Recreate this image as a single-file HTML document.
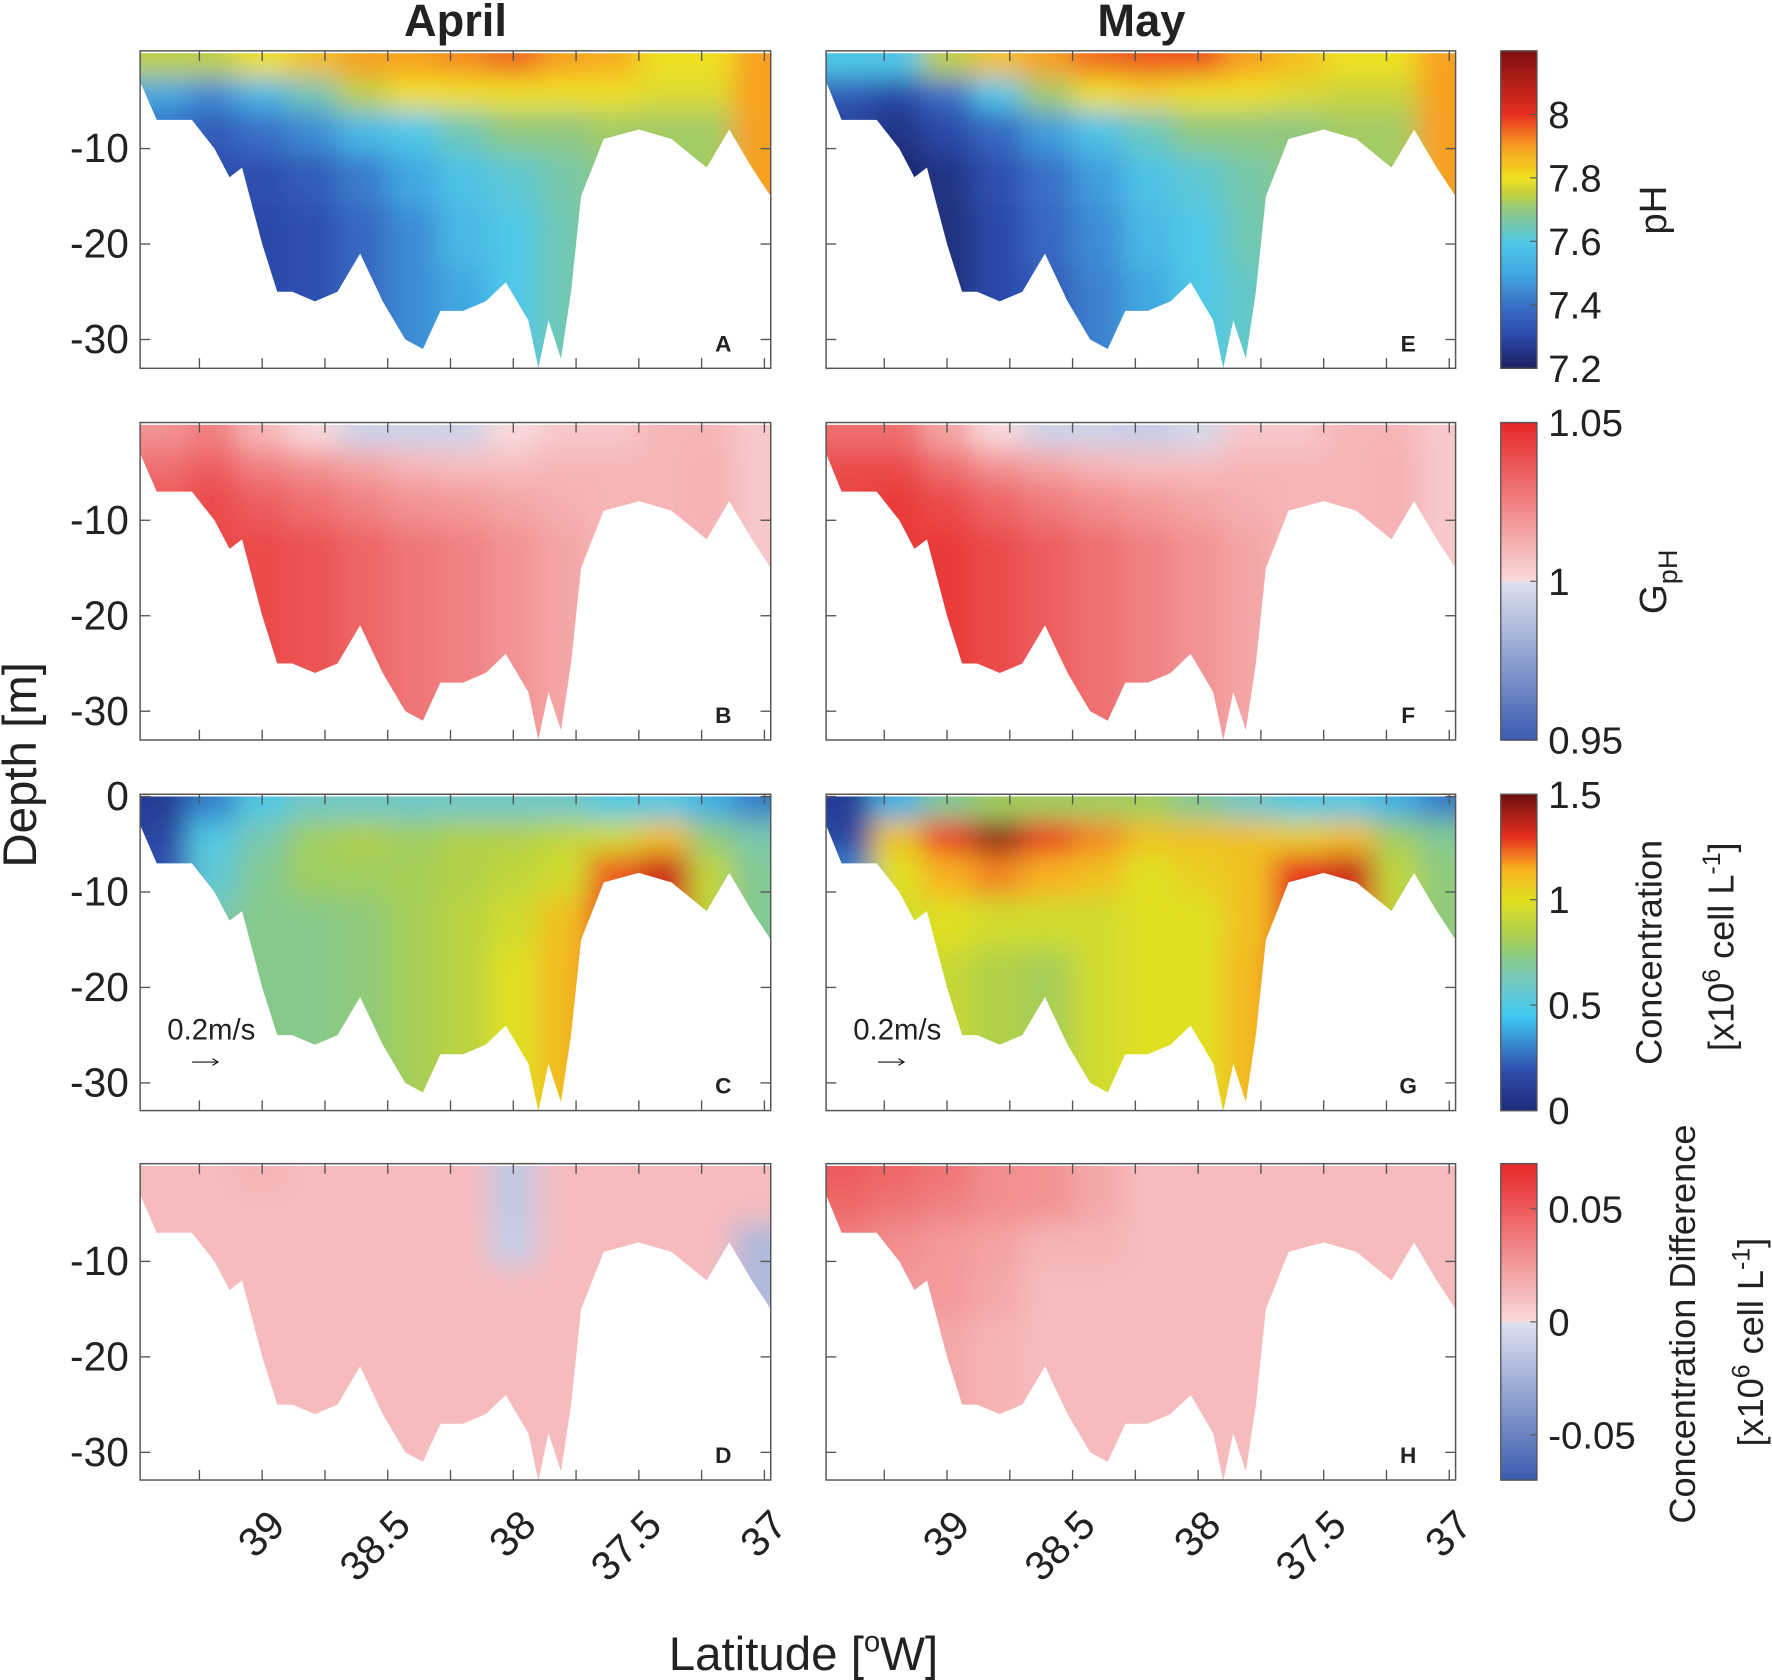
<!DOCTYPE html>
<html><head><meta charset="utf-8"><style>
html,body{margin:0;padding:0;background:#fff;width:1772px;height:1680px;overflow:hidden}
svg{display:block}
text{font-family:"Liberation Sans",Arial,sans-serif;fill:#222}
</style></head><body>
<svg id="fig" width="1772" height="1680" viewBox="0 0 1568 1487" preserveAspectRatio="none" xmlns="http://www.w3.org/2000/svg">
<defs>
<filter id="blur" x="-10%" y="-10%" width="120%" height="120%" filterUnits="objectBoundingBox"><feGaussianBlur stdDeviation="12"/></filter>
</defs>
<g id="root"></g>
</svg>
<script>
// ---- data ----
const colLats = [39.4,39.2,39.0,38.8,38.6,38.4,38.2,38.0,37.8,37.6,37.4,37.2,37.05];
const depthLevels = [-1,-4,-8,-13,-19,-26];
const bottomLats = [39.49,39.42,39.28,39.19,39.13,39.08,39.0,38.94,38.88,38.79,38.7,38.61,38.52,38.43,38.36,38.29,38.2,38.11,38.03,37.94,37.9,37.86,37.81,37.77,37.73,37.64,37.5,37.37,37.23,37.14,37.05,36.97];
const bottomDepths = [-3,-7,-7,-10,-13,-12,-20,-25,-25,-26,-25,-21,-26,-30,-31,-27,-27,-26,-24,-28,-33,-28,-32,-25,-15,-9,-8,-9,-12,-8,-12,-15];
const pHApril = [
[7.75,7.75,7.8,7.85,7.9,7.9,7.92,7.95,7.9,7.88,7.8,7.8,7.9],
[7.5,7.45,7.55,7.65,7.75,7.8,7.8,7.8,7.8,7.8,7.78,7.78,7.9],
[7.4,7.35,7.4,7.45,7.55,7.6,7.65,7.7,7.7,7.72,7.72,7.72,7.9],
[7.35,7.32,7.32,7.35,7.42,7.5,7.58,7.62,7.66,7.7,7.72,7.72,7.9],
[7.33,7.3,7.3,7.32,7.38,7.45,7.55,7.6,7.65,7.7,7.72,7.72,7.9],
[7.33,7.3,7.3,7.32,7.38,7.45,7.5,7.6,7.65,7.7,7.72,7.72,7.9]];
const pHMay = [
[7.6,7.6,7.75,7.85,7.9,7.95,7.97,7.97,7.9,7.85,7.8,7.8,7.9],
[7.35,7.3,7.4,7.6,7.72,7.8,7.82,7.8,7.8,7.78,7.76,7.76,7.9],
[7.28,7.25,7.3,7.38,7.48,7.58,7.64,7.7,7.7,7.7,7.72,7.72,7.9],
[7.25,7.22,7.25,7.32,7.4,7.48,7.58,7.62,7.66,7.7,7.72,7.72,7.9],
[7.2,7.21,7.24,7.3,7.38,7.45,7.55,7.6,7.65,7.7,7.72,7.72,7.9],
[7.2,7.21,7.24,7.3,7.35,7.43,7.5,7.6,7.63,7.7,7.72,7.72,7.9]];
const gApril = [
[1.02,1.025,1.01,1.0,0.995,0.995,0.995,1.0,1.005,1.005,1.01,1.01,1.005],
[1.03,1.035,1.025,1.02,1.015,1.01,1.008,1.008,1.01,1.01,1.01,1.012,1.005],
[1.035,1.04,1.035,1.03,1.025,1.02,1.018,1.015,1.012,1.01,1.01,1.012,1.005],
[1.04,1.04,1.04,1.038,1.033,1.028,1.025,1.02,1.015,1.01,1.01,1.01,1.005],
[1.04,1.04,1.04,1.038,1.033,1.028,1.025,1.02,1.015,1.01,1.01,1.01,1.005],
[1.04,1.04,1.04,1.038,1.033,1.028,1.025,1.02,1.015,1.01,1.01,1.01,1.005]];
const gMay = [
[1.03,1.03,1.015,1.0,0.995,0.995,0.993,0.997,1.005,1.005,1.01,1.01,1.005],
[1.04,1.04,1.03,1.02,1.015,1.01,1.008,1.008,1.01,1.01,1.01,1.012,1.005],
[1.042,1.045,1.04,1.033,1.027,1.022,1.018,1.015,1.012,1.01,1.01,1.012,1.005],
[1.045,1.045,1.045,1.04,1.035,1.03,1.025,1.02,1.015,1.01,1.01,1.01,1.005],
[1.045,1.045,1.045,1.04,1.035,1.03,1.025,1.02,1.015,1.01,1.01,1.01,1.005],
[1.045,1.045,1.045,1.04,1.035,1.03,1.025,1.02,1.015,1.01,1.01,1.01,1.005]];
const concApril = [
[0.1,0.3,0.5,0.6,0.6,0.6,0.6,0.6,0.6,0.5,0.5,0.4,0.3],
[0.15,0.5,0.65,0.8,0.85,0.8,0.85,0.85,0.9,0.95,1.1,0.75,0.65],
[0.2,0.55,0.7,0.8,0.8,0.82,0.85,0.9,0.95,1.25,1.35,0.9,0.7],
[0.6,0.65,0.72,0.72,0.75,0.82,0.88,0.95,1.1,1.3,1.3,0.9,0.7],
[0.7,0.7,0.72,0.72,0.75,0.82,0.88,1.0,1.12,1.3,1.3,0.9,0.7],
[0.7,0.7,0.72,0.72,0.75,0.82,0.88,1.0,1.12,1.3,1.3,0.9,0.7]];
const concMay = [
[0.1,0.4,0.7,0.8,0.8,0.8,0.8,0.7,0.6,0.5,0.5,0.4,0.3],
[0.15,1.1,1.3,1.45,1.3,1.2,1.1,1.1,1.1,1.05,1.1,0.8,0.7],
[0.3,1.0,1.15,1.2,1.15,1.1,1.0,1.05,1.1,1.3,1.35,0.9,0.75],
[0.9,0.95,1.0,0.95,0.95,0.95,1.0,1.0,1.1,1.3,1.3,0.9,0.75],
[0.95,0.95,0.92,0.85,0.82,0.95,1.0,1.0,1.12,1.3,1.3,0.9,0.75],
[0.95,0.95,0.92,0.85,0.82,0.95,1.0,1.0,1.12,1.3,1.3,0.9,0.75]];
const diffApril = [
[0.012,0.012,0.015,0.012,0.012,0.012,0.012,-0.012,0.012,0.012,0.012,0.012,0.012],
[0.012,0.012,0.012,0.012,0.012,0.012,0.012,-0.012,0.012,0.012,0.012,0.012,0.012],
[0.012,0.012,0.012,0.012,0.012,0.012,0.012,-0.01,0.012,0.012,0.012,0.012,-0.02],
[0.012,0.012,0.012,0.012,0.012,0.012,0.012,0.012,0.012,0.012,0.012,0.012,-0.02],
[0.012,0.012,0.012,0.012,0.012,0.012,0.012,0.012,0.012,0.012,0.012,0.012,0.012],
[0.012,0.012,0.012,0.012,0.012,0.012,0.012,0.012,0.012,0.012,0.012,0.012,0.012]];
const diffMay = [
[0.05,0.045,0.04,0.03,0.028,0.02,0.012,0.012,0.012,0.012,0.012,0.012,0.012],
[0.045,0.04,0.035,0.03,0.028,0.02,0.012,0.012,0.012,0.012,0.012,0.012,0.012],
[0.035,0.03,0.025,0.022,0.015,0.015,0.012,0.012,0.012,0.012,0.012,0.012,0.012],
[0.012,0.025,0.025,0.02,0.012,0.012,0.012,0.012,0.012,0.012,0.012,0.012,0.012],
[0.012,0.02,0.02,0.015,0.012,0.012,0.012,0.012,0.012,0.012,0.012,0.012,0.012],
[0.012,0.02,0.02,0.015,0.012,0.012,0.012,0.012,0.012,0.012,0.012,0.012,0.012]];
const xTickLabels = ["39","38.5","38","37.5","37"];
const xTickValues = [39,38.5,38,37.5,37];
const yTickValues = [-10,-20,-30];
const pHTicks = [7.2,7.4,7.6,7.8,8];
const gTicks = [0.95,1,1.05];
const concTicks = [0,0.5,1,1.5];
const diffTicks = [-0.05,0,0.05];

// ---- helpers ----
const NS="http://www.w3.org/2000/svg";
const root=document.getElementById('root');
function mk(tag,attrs,parent){const e=document.createElementNS(NS,tag);for(const k in attrs)e.setAttribute(k,attrs[k]);(parent||root).appendChild(e);return e;}
function hex(c){return [parseInt(c.slice(1,3),16),parseInt(c.slice(3,5),16),parseInt(c.slice(5,7),16)];}
function interp(stops,v){if(v<=stops[0][0])return stops[0][1];for(let i=1;i<stops.length;i++){if(v<=stops[i][0]){const a=stops[i-1],b=stops[i];const t=(v-a[0])/(b[0]-a[0]);const A=hex(a[1]),B=hex(b[1]);return 'rgb('+A.map((x,j)=>Math.round(x+(B[j]-x)*t)).join(',')+')';}}return stops[stops.length-1][1];}
const pHStops=[[7.2,'#1c2060'],[7.3,'#2a48a8'],[7.4,'#3a70c8'],[7.5,'#40a8e0'],[7.6,'#50c8e8'],[7.7,'#90c880'],[7.75,'#c0d040'],[7.8,'#f0e020'],[7.9,'#f8a020'],[8.0,'#e83020'],[8.2,'#801010']];
const concStops=[[0,'#1e2a78'],[0.2,'#3050b0'],[0.45,'#40c8f0'],[0.6,'#70c8c8'],[0.72,'#86c98a'],[0.85,'#b0d048'],[1.0,'#e0e020'],[1.15,'#f8b020'],[1.3,'#e83020'],[1.5,'#701010']];
function divStops(lo,mid,hi){return [[lo,'#3a5cb0'],[mid-1e-9,'#dde0ee'],[mid,'#f9dadc'],[hi,'#e82828']];}
const gStops=divStops(0.95,1,1.05), dStops=divStops(-0.07,0,0.07);

const rows=[{top:45,bot:326},{top:374,bot:655},{top:703,bot:983},{top:1030,bot:1310}];
const cols=[{l:124,r:682,x39:232},{l:731,r:1288,x39:838}];
const PX_DEG=222.2, PX_M=8.45;
function xs(c,lat){return cols[c].x39-(lat-39)*PX_DEG;}
function ys(r,d){return rows[r].top+2-d*PX_M;}

let pid=0;
function panel(r,c,data,stops,letter,name){
  const g=mk('g',{});
  
  
  const L=cols[c].l,R=cols[c].r,T=rows[r].top,B=rows[r].bot;
  const cid='clip'+(pid++);
  const cp=mk('clipPath',{id:cid},g);
  let pts=[[L,T+2]];
  for(let i=0;i<bottomLats.length;i++)pts.push([Math.min(R,Math.max(L,xs(c,bottomLats[i]))),ys(r,bottomDepths[i])]);
  pts.push([R,T+2]);
  mk('polygon',{points:pts.map(p=>p.join(',')).join(' ')},cp);
  const cg=mk('g',{'clip-path':'url(#'+cid+')'},g);
  const fg=mk('g',{filter:'url(#blur)'},cg);
  const dEdges=[0];for(let j=1;j<depthLevels.length;j++)dEdges.push((depthLevels[j-1]+depthLevels[j])/2);dEdges.push(-40);
  for(let j=0;j<depthLevels.length;j++){
    for(let i=0;i<colLats.length;i++){
      const la=i===0?39.8:(colLats[i-1]+colLats[i])/2, lb=i===colLats.length-1?36.7:(colLats[i]+colLats[i+1])/2;
      const x1=xs(c,la),x2=xs(c,lb);
      const y1=j===0?T-30:ys(r,dEdges[j]),y2=ys(r,dEdges[j+1]);
      const rc=mk('rect',{x:x1,y:y1,width:x2-x1+0.5,height:y2-y1+0.5,fill:interp(stops,data[j][i])},fg);
      
      
    }
  }
  const fr=mk('rect',{x:L,y:T,width:R-L,height:B-T,fill:'none',stroke:'#555','stroke-width':1.3},g);
  
  
  for(let lat=39.25;lat>=36.99;lat-=0.25){const x=xs(c,lat);mk('line',{x1:x,y1:B,x2:x,y2:B-9,stroke:'#555','stroke-width':1.2},g);mk('line',{x1:x,y1:T,x2:x,y2:T+9,stroke:'#555','stroke-width':1.2},g);}
  const yt=r===2?[0].concat(yTickValues):yTickValues;
  yt.forEach(v=>{const y=ys(r,v);mk('line',{x1:L,y1:y,x2:L+9,y2:y,stroke:'#555','stroke-width':1.2},g);mk('line',{x1:R,y1:y,x2:R-9,y2:y,stroke:'#555','stroke-width':1.2},g);
    if(c===0){const t=mk('text',{x:L-10,y:y+12,'text-anchor':'end','font-size':36},g);t.textContent=String(v);}});
  const lt=mk('text',{x:R-42,y:B-15,'font-size':20,'font-weight':'bold','text-anchor':'middle'},g);lt.textContent=letter;
  
  
  if(r===2){const t=mk('text',{x:L+24,y:B-63,'font-size':26},g);t.textContent='0.2m/s';
    mk('line',{x1:L+46,y1:B-43,x2:L+68,y2:B-43,stroke:'#111','stroke-width':1},g);mk('path',{d:`M${L+64},${B-46} L${L+69},${B-43} L${L+64},${B-40}`,fill:'none',stroke:'#111','stroke-width':1},g);}
  if(r===3){xTickValues.forEach((v,k)=>{const x=xs(c,v);const t=mk('text',{x:0,y:0,'font-size':36,'text-anchor':'end',transform:`translate(${x+22},${B+42}) rotate(-45)`},g);t.textContent=xTickLabels[k];});}
}
panel(0,0,pHApril,pHStops,'A','ph-april-panel');
panel(0,1,pHMay,pHStops,'E','ph-may-panel');
panel(1,0,gApril,gStops,'B','gph-april-panel');
panel(1,1,gMay,gStops,'F','gph-may-panel');
panel(2,0,concApril,concStops,'C','concentration-april-panel');
panel(2,1,concMay,concStops,'G','concentration-may-panel');
panel(3,0,diffApril,dStops,'D','difference-april-panel');
panel(3,1,diffMay,dStops,'H','difference-may-panel');

function colorbar(r,lo,hi,stops,ticks,fmt,name){
  const g=mk('g',{});
  
  
  const T=rows[r].top,B=rows[r].bot,X=1328,W=32,n=120;
  for(let i=0;i<n;i++){const v=lo+(hi-lo)*(i+0.5)/n;const y=B-(i+1)*(B-T)/n;mk('rect',{x:X,y:y,width:W,height:(B-T)/n+0.6,fill:interp(stops,v)},g);}
  mk('rect',{x:X,y:T,width:W,height:B-T,fill:'none',stroke:'#555','stroke-width':1.2},g);
  ticks.forEach(v=>{const y=B-(v-lo)/(hi-lo)*(B-T);mk('line',{x1:X+W,y1:y,x2:X+W-6,y2:y,stroke:'#555'},g);const t=mk('text',{x:1370,y:y+12,'font-size':34},g);t.textContent=fmt(v);});
}
colorbar(0,7.2,8.2,pHStops,pHTicks,v=>v===8?'8':v.toFixed(1),'ph-colorbar');
colorbar(1,0.95,1.05,gStops,gTicks,v=>v===1?'1':String(v),'gph-colorbar');
colorbar(2,0,1.5,concStops,concTicks,v=>String(v),'concentration-colorbar');
colorbar(3,-0.07,0.07,dStops,diffTicks,v=>v===0?'0':v.toFixed(2),'difference-colorbar');

function txt(s,attrs,name){const t=mk('text',attrs);t.innerHTML=s;return t;}
txt('April',{x:403,y:32,'font-size':40,'font-weight':'bold','text-anchor':'middle'},'april-title');
txt('May',{x:1010,y:32,'font-size':40,'font-weight':'bold','text-anchor':'middle'},'may-title');
txt('Latitude [<tspan dy="-16" font-size="26">o</tspan><tspan dy="16">W]</tspan>',{x:711,y:1478,'font-size':42,'text-anchor':'middle'},'x-axis-title');
txt('Depth [m]',{x:0,y:0,'font-size':42,'text-anchor':'middle',transform:'translate(32,677) rotate(-90)'},'y-axis-title');
txt('pH',{x:0,y:0,'font-size':34,'text-anchor':'middle',transform:'translate(1474,186) rotate(-90)'},'ph-colorbar-title');
txt('G<tspan dy="10" font-size="24">pH</tspan>',{x:0,y:0,'font-size':34,'text-anchor':'middle',transform:'translate(1474,515) rotate(-90)'},'gph-colorbar-title');
txt('Concentration',{x:0,y:0,'font-size':32,'text-anchor':'middle',transform:'translate(1470,843) rotate(-90)'},'concentration-colorbar-title');
txt('[x10<tspan dy="-12" font-size="22">6</tspan><tspan dy="12"> cell L</tspan><tspan dy="-12" font-size="22">-1</tspan><tspan dy="12">]</tspan>',{x:0,y:0,'font-size':32,'text-anchor':'middle',transform:'translate(1534,838) rotate(-90)'},'concentration-colorbar-units');
txt('Concentration Difference',{x:0,y:0,'font-size':32,'text-anchor':'middle',transform:'translate(1500,1172) rotate(-90)'},'difference-colorbar-title');
txt('[x10<tspan dy="-12" font-size="22">6</tspan><tspan dy="12"> cell L</tspan><tspan dy="-12" font-size="22">-1</tspan><tspan dy="12">]</tspan>',{x:0,y:0,'font-size':32,'text-anchor':'middle',transform:'translate(1560,1188) rotate(-90)'},'difference-colorbar-units');
</script>
</body></html>
